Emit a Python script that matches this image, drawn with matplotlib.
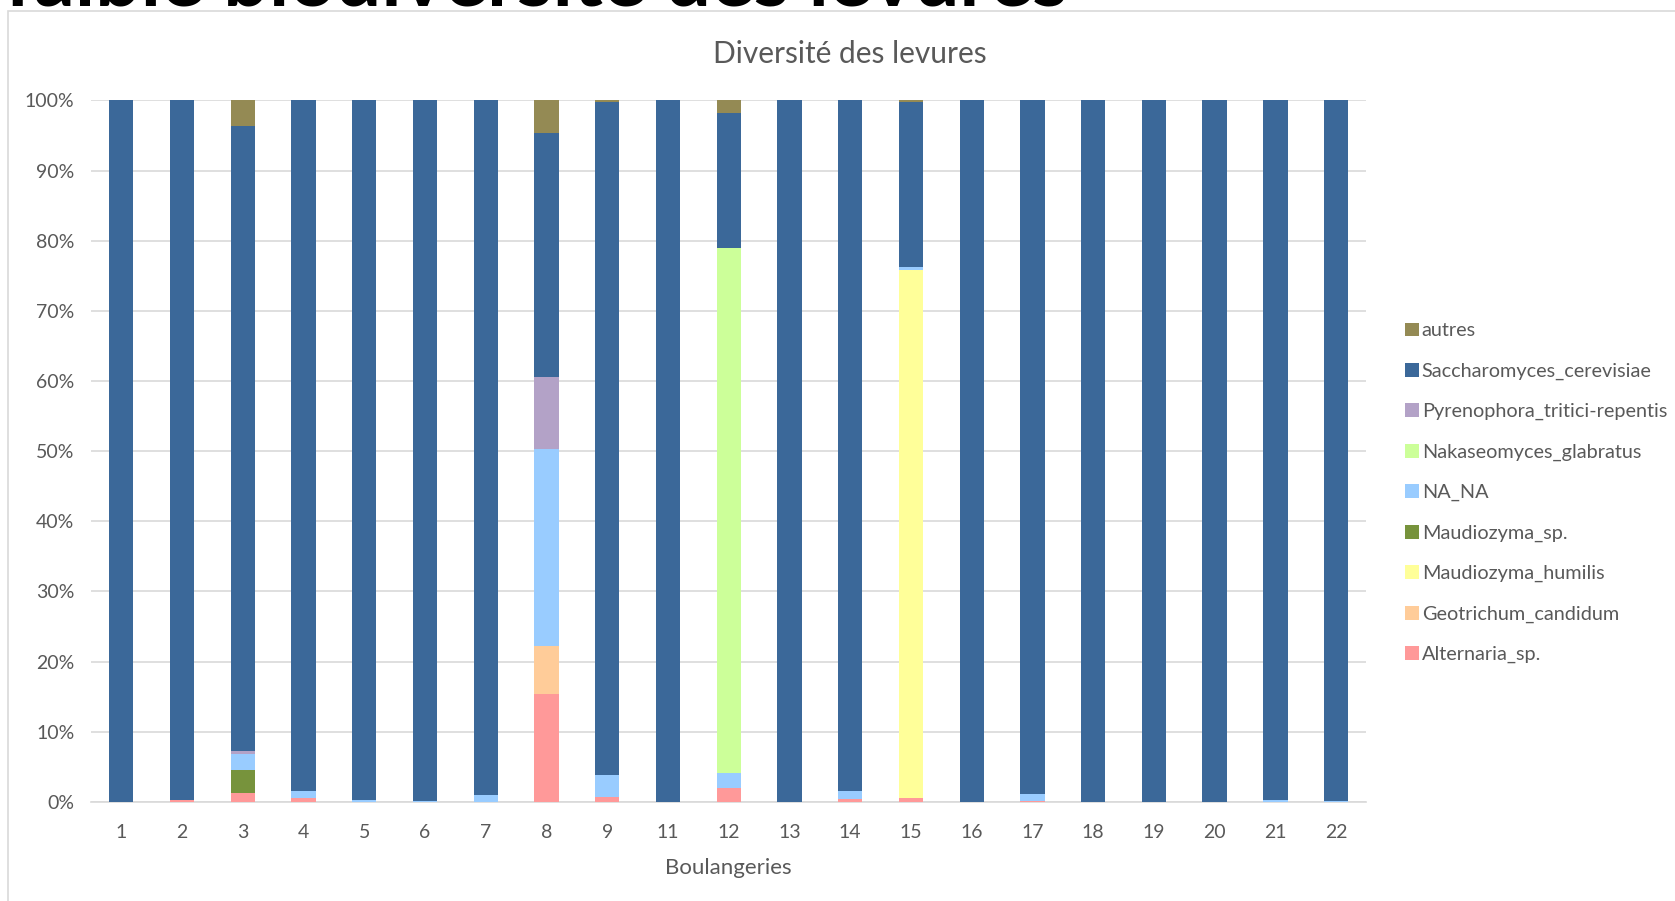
import matplotlib.pyplot as plt
import numpy as np
from matplotlib.patches import Rectangle

plt.rcParams['font.family'] = ['Lato', 'DejaVu Sans']

boulangeries = ['1', '2', '3', '4', '5', '6', '7', '8', '9', '11', '12',
                '13', '14', '15', '16', '17', '18', '19', '20', '21', '22']

# values in %, stacked bottom -> top
alternaria = [0, 0.3, 1.3, 0.5, 0, 0, 0, 15.4, 0.7, 0, 2.0,
              0, 0.4, 0.6, 0, 0.2, 0, 0, 0, 0, 0]
geotrichum = [0, 0, 0, 0, 0, 0, 0, 6.9, 0, 0, 0,
              0, 0, 0, 0, 0, 0, 0, 0, 0, 0]
m_humilis = [0, 0, 0, 0, 0, 0, 0, 0, 0, 0, 0,
             0, 0, 75.2, 0, 0, 0, 0, 0, 0, 0]
m_sp = [0, 0, 3.3, 0, 0, 0, 0, 0, 0, 0, 0,
        0, 0, 0, 0, 0, 0, 0, 0, 0, 0]
na_na = [0, 0, 2.3, 1.1, 0.3, 0.1, 1.0, 28.0, 3.1, 0, 2.2,
         0, 1.1, 0.5, 0, 1.0, 0, 0, 0, 0.3, 0.1]
nakaseomyces = [0, 0, 0, 0, 0, 0, 0, 0, 0, 0, 74.8,
                0, 0, 0, 0, 0, 0, 0, 0, 0, 0]
pyrenophora = [0, 0, 0.3, 0, 0, 0, 0, 10.3, 0, 0, 0,
               0, 0, 0, 0, 0, 0, 0, 0, 0, 0]
saccharomyces = [100, 99.7, 89.2, 98.4, 99.7, 99.9, 99.0, 34.8, 96.0, 100, 19.2,
                 100, 98.5, 23.5, 100, 98.8, 100, 100, 100, 99.7, 99.9]
autres = [0, 0, 3.6, 0, 0, 0, 0, 4.6, 0.2, 0, 1.8,
          0, 0, 0.2, 0, 0, 0, 0, 0, 0, 0]

series = [
    ('Alternaria_sp.', alternaria, '#FF9999'),
    ('Geotrichum_candidum', geotrichum, '#FFCC99'),
    ('Maudiozyma_humilis', m_humilis, '#FFFF99'),
    ('Maudiozyma_sp.', m_sp, '#77933C'),
    ('NA_NA', na_na, '#99CCFF'),
    ('Nakaseomyces_glabratus', nakaseomyces, '#CCFF99'),
    ('Pyrenophora_tritici-repentis', pyrenophora, '#B3A2C7'),
    ('Saccharomyces_cerevisiae', saccharomyces, '#3B6899'),
    ('autres', autres, '#948A54'),
]

fig = plt.figure(figsize=(16.75, 9.01), dpi=100)
ax = fig.add_axes([0.0543, 0.1099, 0.7615, 0.7787])

x = np.arange(len(boulangeries))
bottom = np.zeros(len(boulangeries))
for name, vals, col in series:
    vals = np.array(vals, dtype=float)
    ax.bar(x, vals, width=0.4, bottom=bottom, color=col, label=name, zorder=3)
    bottom += vals

ax.set_xlim(-0.5, len(boulangeries) - 0.5)
ax.set_ylim(0, 100)
ax.set_yticks(np.arange(0, 101, 10))
ax.set_yticklabels([f'{v}%' for v in range(0, 101, 10)])
ax.set_xticks(x)
ax.set_xticklabels(boulangeries)
ax.tick_params(axis='both', length=0, labelsize=14, colors='#595959')
ax.tick_params(axis='y', pad=12)
ax.tick_params(axis='x', pad=16)
ax.grid(True, axis='y', color='#D9D9D9', linewidth=1.2, zorder=0)
for s in ['top', 'right', 'left']:
    ax.spines[s].set_visible(False)
ax.spines['bottom'].set_color('#D9D9D9')
ax.spines['bottom'].set_linewidth(1.2)

ax.set_xlabel('Boulangeries', fontsize=16, color='#595959', labelpad=12)
fig.text(0.5075, 0.940, 'Diversité des levures', ha='center', va='center',
         fontsize=21.5, color='#595959')

handles, labels = ax.get_legend_handles_labels()
leg = fig.legend(handles[::-1], labels[::-1], loc='upper left',
                 bbox_to_anchor=(0.828, 0.662), frameon=False, fontsize=14.3,
                 handlelength=0.7, handleheight=0.7, handletextpad=0.15,
                 labelspacing=1.17, labelcolor='#595959')

# chart frame and cut-off slide title
fig.patches.append(Rectangle((8 / 1675, -0.01), 1.0, 1 - 11 / 901 + 0.01,
                             transform=fig.transFigure, fill=False,
                             edgecolor='#D9D9D9', linewidth=1.2))
fig.text(0.003, 1 - 6 / 901, 'faible biodiversité des levures', ha='left',
         va='baseline', fontsize=58, fontweight='bold', color='black')

fig.savefig('out.png', dpi=100)
